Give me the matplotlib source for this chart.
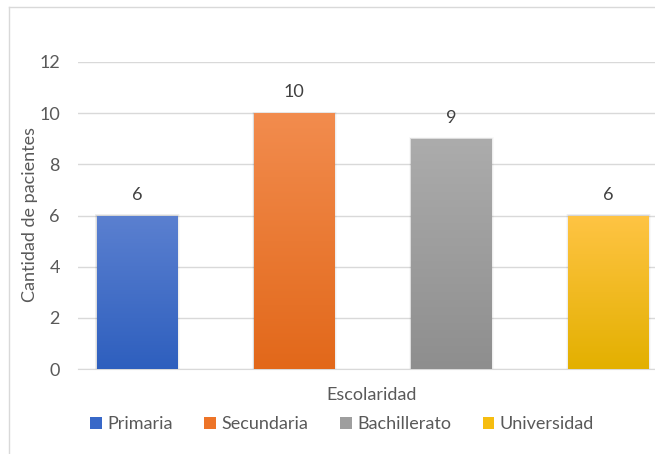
import numpy as np
import matplotlib.pyplot as plt
from matplotlib.colors import LinearSegmentedColormap
from matplotlib.lines import Line2D
from matplotlib.patches import Patch

plt.rcParams["font.family"] = ["Lato", "DejaVu Sans"]

categories = ["Primaria", "Secundaria", "Bachillerato", "Universidad"]
values = [6, 10, 9, 6]
# top, bottom colour of each bar's gradient
grad_colors = [
    ("#5b80d0", "#2e5fbe"),
    ("#f28c4e", "#e2681a"),
    ("#acacac", "#8e8e8e"),
    ("#ffc444", "#e3b000"),
]
legend_colors = ["#3868c8", "#ed7428", "#9e9e9e", "#f6bd10"]
yticks = [0, 2, 4, 6, 8, 10, 12]

TXT = "#595959"
FS = 13

fig = plt.figure(figsize=(6.55, 4.54), dpi=100)
ax = fig.add_axes([78 / 655, 1 - 369 / 454, 1 - 78 / 655, (369 - 62) / 454])

x = np.arange(len(categories))
bars = ax.bar(x, values, width=0.51, color="none", zorder=3)

for b, (c_top, c_bot) in zip(bars, grad_colors):
    cmap = LinearSegmentedColormap.from_list("g", [c_bot, c_top])
    grad = np.linspace(0, 1, 256).reshape(-1, 1)
    x0, y0 = b.get_x(), b.get_y()
    im = ax.imshow(grad, cmap=cmap, origin="lower", aspect="auto",
                   extent=[x0, x0 + b.get_width(), y0, y0 + b.get_height()],
                   zorder=3)
    im.set_clip_path(b)
    # soft shadow around the bar
    for k, a in enumerate([0.07, 0.045, 0.025]):
        ax.add_patch(plt.Rectangle((x0 - 0.005 * (k + 1), y0),
                                   b.get_width() + 0.01 * (k + 1),
                                   b.get_height() + 0.02 * (k + 1),
                                   color="black", alpha=a, lw=0, zorder=2.5))

for xi, v in zip(x, values):
    ax.annotate(str(v), (xi, v), xytext=(0, 15), textcoords="offset points",
                ha="center", va="center", fontsize=FS, color="#404040")

ax.set_xlim(-0.376, 3.296)
ax.set_ylim(0, 12)
ax.set_yticks(yticks)
ax.set_xticks([])
ax.grid(axis="y", color="#d9d9d9", lw=1, zorder=0)
ax.set_axisbelow(True)
for s in ["top", "right", "left"]:
    ax.spines[s].set_visible(False)
ax.spines["bottom"].set_color("#d9d9d9")
ax.tick_params(axis="y", length=0, pad=13, labelsize=FS, labelcolor=TXT)

fig.text(30 / 655, 1 - 215 / 454, "Cantidad de pacientes", rotation=90,
         ha="center", va="center", fontsize=FS, color=TXT)
fig.text(372 / 655, 1 - 395 / 454, "Escolaridad", ha="center", va="center",
         fontsize=FS, color=TXT)

handles = [Patch(facecolor=c, edgecolor="none") for c in legend_colors]
fig.legend(handles, categories, loc="center", bbox_to_anchor=(342 / 655, 1 - 424 / 454),
           ncol=4, frameon=False, fontsize=FS, labelcolor=TXT,
           handlelength=0.65, handleheight=0.65, handletextpad=0.3, columnspacing=1.75)

# chart border (left and top edges visible)
fig.add_artist(Line2D([9 / 655, 9 / 655], [0, 1 - 7 / 454], color="#d9d9d9", lw=1))
fig.add_artist(Line2D([9 / 655, 1], [1 - 7 / 454, 1 - 7 / 454], color="#d9d9d9", lw=1))

fig.savefig("out.png", dpi=100)
